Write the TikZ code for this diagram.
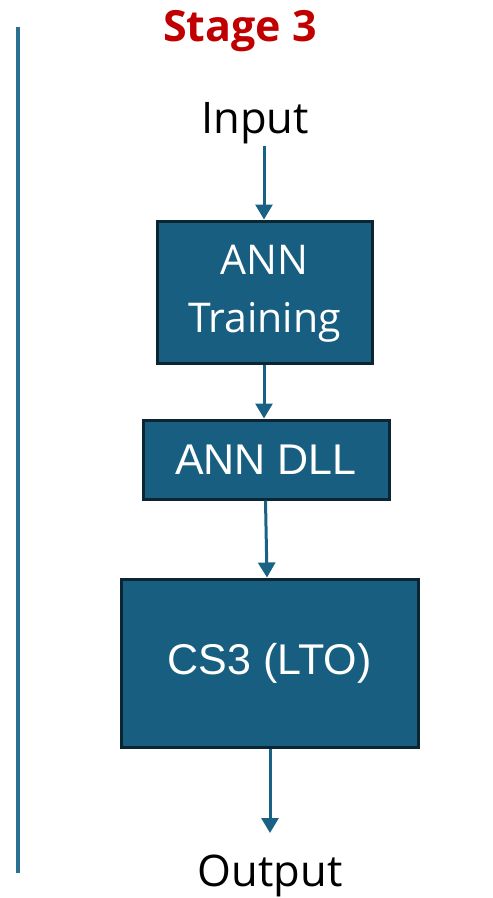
\documentclass[tikz,border=0pt]{standalone}
\usepackage{fontspec}
\setmainfont{Open Sans}
\newfontfamily\boxfont{Liberation Sans}
\usetikzlibrary{arrows.meta}
\definecolor{stagered}{HTML}{C00000}
\definecolor{boxfill}{HTML}{175E80}
\definecolor{boxedge}{HTML}{0B2533}
\definecolor{flow}{HTML}{1A6285}
\definecolor{rail}{HTML}{2B7093}
\tikzset{
  procbox/.style={draw=boxedge, line width=3pt, fill=boxfill, text=white,
    font=\boxfont\fontsize{43}{52}\selectfont, align=center, inner sep=0pt},
  flowarrow/.style={draw=flow, line width=3pt,
    -{Triangle[width=17pt,length=15pt]}},
  plainlabel/.style={font=\fontsize{43.5}{50}\selectfont, text=black, inner sep=0pt},
}
\begin{document}
\begin{tikzpicture}[x=1pt,y=-1pt]
\useasboundingbox (0,0) rectangle (493,898);
% side rail
\draw[rail, line width=4pt] (18,27) -- (18,873);
% heading
\node[font=\bfseries\fontsize{43}{50}\selectfont, text=stagered] (title) at (240,31) {Stage 3};
% input / output labels
\node[plainlabel] (input) at (255,123) {Input};
\node[plainlabel] (output) at (270,876) {Output};
% processing boxes
\node[procbox, minimum width=215pt, minimum height=142pt] (train) at (264.5,292) {};
\node[font=\fontsize{41}{58}\selectfont, text=white, align=center, inner sep=0pt] (trainlabel) at (264.5,294) {ANN\\Training};
\node[procbox, minimum width=246pt, minimum height=79pt] (dll) at (266,459.5) {ANN DLL};
\node[procbox, minimum width=297pt, minimum height=168pt] (cs3) at (269.5,663) {CS3 (LTO)};
% connector anchors
\coordinate (inTail) at (264,146);
\coordinate (outHead) at (270,833);
% flow
\draw[flowarrow] (inTail) -- (inTail |- train.north);
\draw[flowarrow] (train.south -| inTail) -- (dll.north -| inTail);
\draw[flowarrow] ([xshift=-0.5pt]dll.south) -- ([xshift=-2.5pt]cs3.north);
\draw[flowarrow] (cs3.south -| outHead) -- (outHead);
\end{tikzpicture}
\end{document}
